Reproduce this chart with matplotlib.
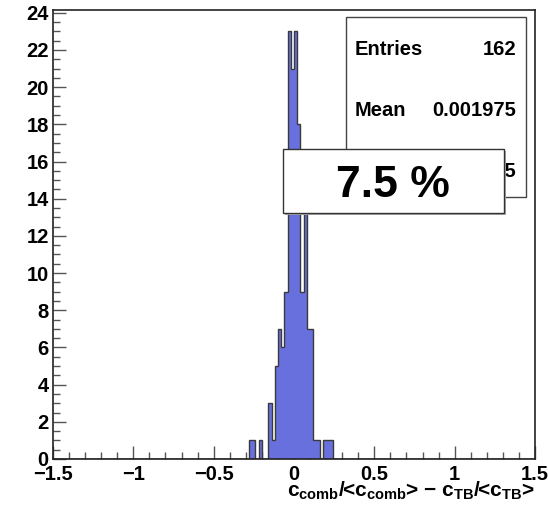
import numpy as np
import matplotlib
matplotlib.use('Agg')
import matplotlib.pyplot as plt
from matplotlib.patches import Rectangle
from matplotlib.ticker import MultipleLocator

# histogram contents (bin centres, counts) - bins of width 0.02 on [-1.5, 1.5]
bin_centres = [-0.27, -0.25, -0.21, -0.15, -0.13, -0.11, -0.09, -0.07, -0.05,
               -0.03, -0.01, 0.01, 0.03, 0.05, 0.07, 0.09, 0.11, 0.13, 0.15,
               0.19, 0.21, 0.23]
counts = [1, 1, 1, 3, 1, 5, 7, 6, 9,
          23, 21, 23, 18, 9, 15, 7, 7, 1, 1,
          1, 1, 1]
n_bins = 150
x_range = (-1.5, 1.5)

stats_labels = ['Entries', 'Mean', 'RMS']
stats_values = ['162', '0.001975', '0.07455']
big_label = '7.5 %'

plt.rcParams['font.family'] = ['Liberation Sans', 'DejaVu Sans']
plt.rcParams['mathtext.fontset'] = 'custom'
plt.rcParams['mathtext.rm'] = 'Liberation Sans:bold'
plt.rcParams['mathtext.it'] = 'Liberation Sans:bold'
plt.rcParams['mathtext.bf'] = 'Liberation Sans:bold'

W, H = 548, 505
fig = plt.figure(figsize=(W / 100, H / 100), dpi=100)
ax = fig.add_axes([53 / W, 46 / H, 482 / W, 449 / H])

edges = np.linspace(x_range[0], x_range[1], n_bins + 1)
ax.hist(bin_centres, bins=edges, weights=counts, histtype='stepfilled',
        facecolor='#6870dd', edgecolor='#3a3a3a', linewidth=1.0, zorder=2)

ax.set_xlim(*x_range)
ax.set_ylim(0, 1.05 * max(counts))

ax.xaxis.set_major_locator(MultipleLocator(0.5))
ax.xaxis.set_minor_locator(MultipleLocator(0.1))
ax.yaxis.set_major_locator(MultipleLocator(2))
ax.yaxis.set_minor_locator(MultipleLocator(0.5))
ax.tick_params(which='both', direction='in', top=False, right=False,
               color='#555555', width=1.0)
ax.tick_params(which='major', length=9.5)
ax.tick_params(which='minor', length=5)
ax.tick_params(axis='x', which='major', pad=4, labelsize=14.5)
ax.tick_params(axis='y', which='major', pad=3, labelsize=14.5)
for lab in ax.get_xticklabels() + ax.get_yticklabels():
    lab.set_fontweight('bold')
ax.xaxis.set_major_formatter(plt.FuncFormatter(
    lambda v, p: ('%g' % v).replace('-', '\u2212')))
for s in ax.spines.values():
    s.set_linewidth(1.2)
    s.set_color('#222222')

fig.text(535 / W, 1 - 497 / H,
         'c$_{comb}$/<c$_{comb}$> \u2212 c$_{TB}$/<c$_{TB}$>',
         ha='right', va='baseline', fontsize=15, fontweight='bold')

# stats box
fig.patches.append(Rectangle((347 / W, 1 - 198 / H), 180 / W, 180 / H,
                             transform=fig.transFigure, facecolor='#888888',
                             edgecolor='none', zorder=5))
fig.patches.append(Rectangle((346 / W, 1 - 197 / H), 180 / W, 180 / H,
                             transform=fig.transFigure, facecolor='white',
                             edgecolor='#444444', linewidth=1.0, zorder=6))
for i, (lab, val) in enumerate(zip(stats_labels, stats_values)):
    yb = 1 - (55 + 61 * i) / H
    fig.text(355 / W, yb, lab, ha='left', va='baseline', fontsize=14.5,
             fontweight='bold', zorder=7)
    fig.text(516 / W, yb, val, ha='right', va='baseline', fontsize=14.5,
             fontweight='bold', zorder=7)

# big percentage box
fig.patches.append(Rectangle((285 / W, 1 - 215 / H), 221 / W, 64 / H,
                             transform=fig.transFigure, facecolor='#aaaaaa',
                             edgecolor='none', zorder=8))
fig.patches.append(Rectangle((283 / W, 1 - 213 / H), 221 / W, 64 / H,
                             transform=fig.transFigure, facecolor='white',
                             edgecolor='#333333', linewidth=1.0, zorder=9))
fig.text(393 / W, 1 - 197 / H, big_label, ha='center', va='baseline',
         fontsize=32, fontweight='bold', zorder=10)

fig.savefig('out.png', dpi=100)
